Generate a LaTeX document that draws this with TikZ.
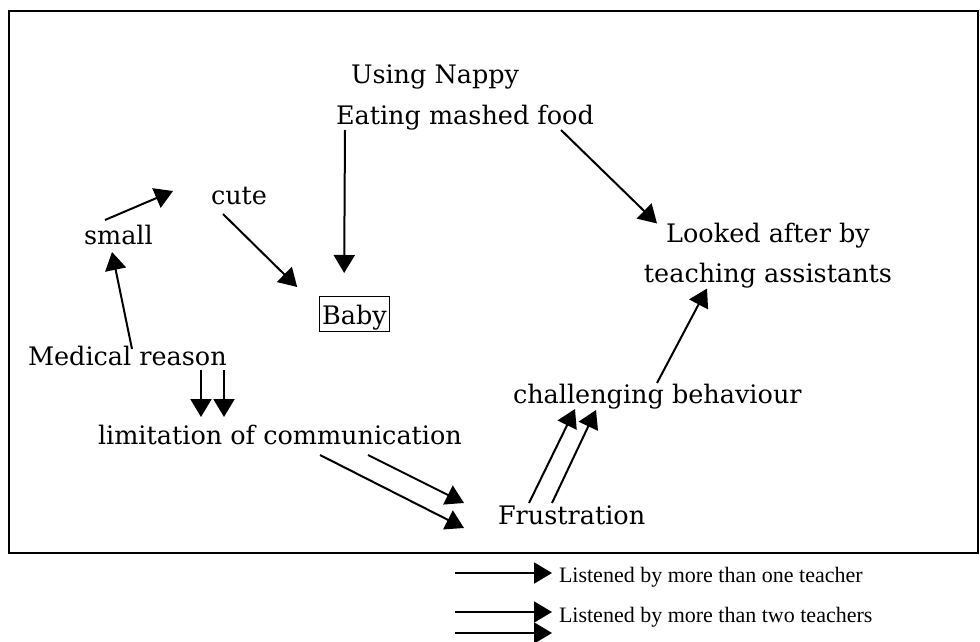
\documentclass[tikz,border=0pt]{standalone}
\usepackage{fontspec}
\setmainfont{DejaVu Serif}
\newfontfamily\legendfont{Liberation Serif}
\usetikzlibrary{arrows.meta, calc, positioning}
\tikzset{> = { Triangle[length = 18pt, width = 21pt] }}

\begin{document}
\begin{tikzpicture}[x = 1pt, y = -1pt, line width = 2pt, concept/.style = { font = \fontsize{25.5}{40}\selectfont, inner sep = 0, anchor = base west }, legend/.style = { font = \legendfont\fontsize{22}{26}\selectfont, inner sep = 0, anchor = base west }]
				\useasboundingbox (0, 0) rectangle (980, 642);
				\draw (9, 11) rectangle (978, 553);

				\node [concept] (nappy) at (350, 84) {Using Nappy};
				\node [concept] (food) at (335, 124) {Eating mashed food};
				\node [concept] (cute) at (210, 204) {cute};
				\node [concept] (small) at (83, 244) {small};
				\node [concept, anchor = center, draw, line width = 1pt, inner xsep = 2.5pt, inner ysep = 1pt, text height = 27pt, text depth = 6pt] (baby) at (354.5, 314) {Baby};
				\node [concept, anchor = center, align = center] (ta) at (768, 256) {Looked after by\\teaching assistants};
				\node [concept] (medical) at (27, 365) {Medical reason};
				\node [concept] (limit) at (97, 444) {limitation of communication};
				\node [concept] (chall) at (512, 403) {challenging behaviour};
				\node [concept] (frust) at (497, 524) {Frustration};

				\node [legend] (leg1) at (558, 582) {Listened by more than one teacher};
				\node [legend] (leg2) at (558, 622) {Listened by more than two teachers};
				\coordinate (l1) at (455, 573);
				\coordinate (l2) at (455, 612);
				\coordinate (l3) at (455, 633);

				\draw [->] ($(small.base west) + (22, -24)$) -- ($(cute.base west) + (-37, -13)$);
				\draw [->] ($(cute.base west) + (13, 10)$) -- ($(baby.north west) + (-22, -9)$);
				\draw [->] ($(food.base west) + (10, 6)$) -- ($(baby.north west) + (25, -23)$);
				\draw [->] ($(medical.base west) + (105, -16)$) -- ($(small.base west) + (29, 8)$);
				\draw [->] ($(food.base west) + (226, 6)$) -- ($(ta.north) + (-111, 1)$);
				\draw [->] ($(chall.base west) + (145, -20)$) -- ($(ta.south) + (-61, -1)$);

				\draw [->] ($(medical.base west) + (174, 5)$) -- ($(limit.base west) + (104, -27)$);
				\draw [->] ($(medical.base west) + (197, 5)$) -- ($(limit.base west) + (127, -27)$);
				\draw [->] ($(limit.base west) + (223, 11)$) -- ($(frust.base west) + (-33, 4)$);
				\draw [->] ($(limit.base west) + (271, 11)$) -- ($(frust.base west) + (-33, -21)$);
				\draw [->] ($(frust.base west) + (32, -21)$) -- ($(chall.base west) + (63, 6)$);
				\draw [->] ($(frust.base west) + (55, -21)$) -- ($(chall.base west) + (84, 7)$);

				\draw [->] (l1) -- ($(leg1.base west) + (-6, -9)$);
				\draw [->] (l2) -- ($(leg2.base west) + (-6, -10)$);
				\draw [->] (l3) -- ($(leg2.base west) + (-6, 11)$);
\end{tikzpicture}
\end{document}
